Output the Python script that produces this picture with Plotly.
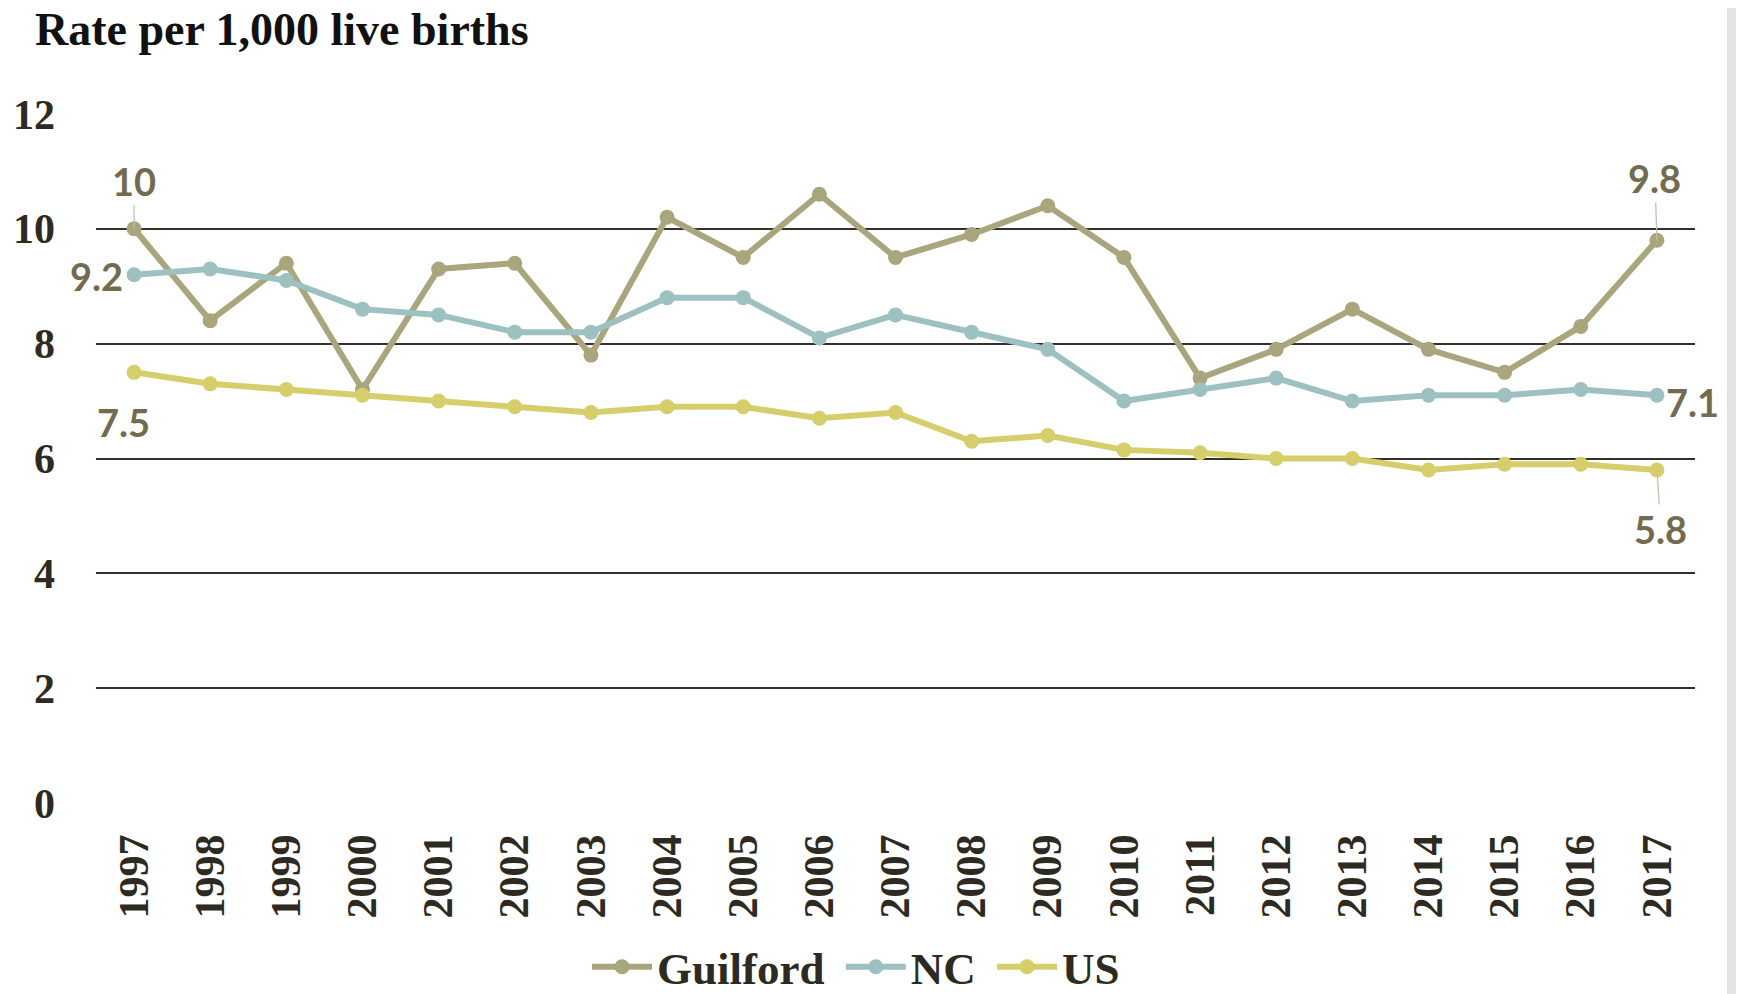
import plotly.graph_objects as go

years = [str(y) for y in range(1997, 2018)]
guilford = [10.0, 8.4, 9.4, 7.2, 9.3, 9.4, 7.8, 10.2, 9.5, 10.6, 9.5, 9.9, 10.4, 9.5, 7.4, 7.9, 8.6, 7.9, 7.5, 8.3, 9.8]
nc = [9.2, 9.3, 9.1, 8.6, 8.5, 8.2, 8.2, 8.8, 8.8, 8.1, 8.5, 8.2, 7.9, 7.0, 7.2, 7.4, 7.0, 7.1, 7.1, 7.2, 7.1]
us = [7.5, 7.3, 7.2, 7.1, 7.0, 6.9, 6.8, 6.9, 6.9, 6.7, 6.8, 6.3, 6.4, 6.15, 6.1, 6.0, 6.0, 5.8, 5.9, 5.9, 5.8]
y_ticks = [0, 2, 4, 6, 8, 10, 12]

series = [("Guilford", guilford, "#a9a57c"), ("NC", nc, "#9cc1c0"), ("US", us, "#d5ce6a")]

SERIF = "Liberation Serif, Times New Roman, serif"
LABEL_FONT = dict(family="Lato, Open Sans, sans-serif", size=38, color="#736b4f", weight="bold")

W, H = 1736, 986  # page body has an 8px margin
ML, MR, MT, MB = 88, 49, 105, 190
PW, PH = W - ML - MR, H - MT - MB

fig = go.Figure()
for name, vals, col in series:
    fig.add_trace(go.Scatter(
        x=years, y=vals, name=name + "\u00a0", mode="lines+markers",
        line=dict(color=col, width=6),
        marker=dict(color=col, size=15),
    ))

first, last = 0, len(years) - 1

def ann(x, y, text, **kw):
    d = dict(x=x, y=y, text=text, font=LABEL_FONT, xref="x", yref="y", showarrow=False)
    d.update(kw)
    fig.add_annotation(**d)

lead = dict(showarrow=True, arrowhead=0, arrowwidth=1.3, arrowcolor="#c4bead", standoff=0)
ann(first, guilford[first], "10", ax=0, ay=-48, **lead)
ann(first, nc[first], "9.2", xanchor="right", xshift=-9, yshift=-1)
ann(first, us[first], "7.5", xshift=-11, yshift=-50)
ann(last, guilford[last], "9.8", ax=-2, ay=-62, **lead)
ann(last, nc[last], "7.1", xanchor="left", xshift=7, yshift=-7)
ann(last, us[last], "5.8", ax=4, ay=59, **lead)

# title
fig.add_annotation(text="Rate per 1,000 live births", xref="paper", yref="paper",
                   x=(25 - ML) / PW, y=(H - MB - 21) / PH, xanchor="left", yanchor="middle",
                   showarrow=False,
                   font=dict(family=SERIF, size=46, color="#111111", weight="bold"))

# gray strip at right edge
fig.add_shape(type="rect", xref="paper", yref="paper",
              x0=(1719 - ML) / PW, x1=1.05, y0=-0.4, y1=1.3,
              fillcolor="#e3e3e3", line=dict(width=0), layer="below")

fig.update_layout(
    width=W, height=H,
    margin=dict(l=ML, r=MR, t=MT, b=MB, autoexpand=False),
    paper_bgcolor="white", plot_bgcolor="white",
    showlegend=True,
    legend=dict(orientation="h", xref="container", yref="container",
                x=579/W, y=1-959/H, xanchor="left", yanchor="middle",
                font=dict(family=SERIF, size=45, color="#2d2a22", weight="bold"),
                itemwidth=60, tracegroupgap=0, bgcolor="rgba(0,0,0,0)"),
    xaxis=dict(type="category", range=[-0.5, 20.5], showgrid=False, zeroline=False,
               showline=False, tickangle=-90, ticks="", ticklabelstandoff=21,
               tickfont=dict(family=SERIF, size=42, color="#2d2a22", weight="bold")),
    yaxis=dict(range=[-0.015, 12.015], tickvals=y_ticks, showgrid=True, gridcolor="#35312a", gridwidth=2,
               zeroline=False, showline=False, ticks="", ticklabelstandoff=40,
               tickfont=dict(family=SERIF, size=42, color="#2d2a22", weight="bold")),
)

fig.write_html("out.html")
